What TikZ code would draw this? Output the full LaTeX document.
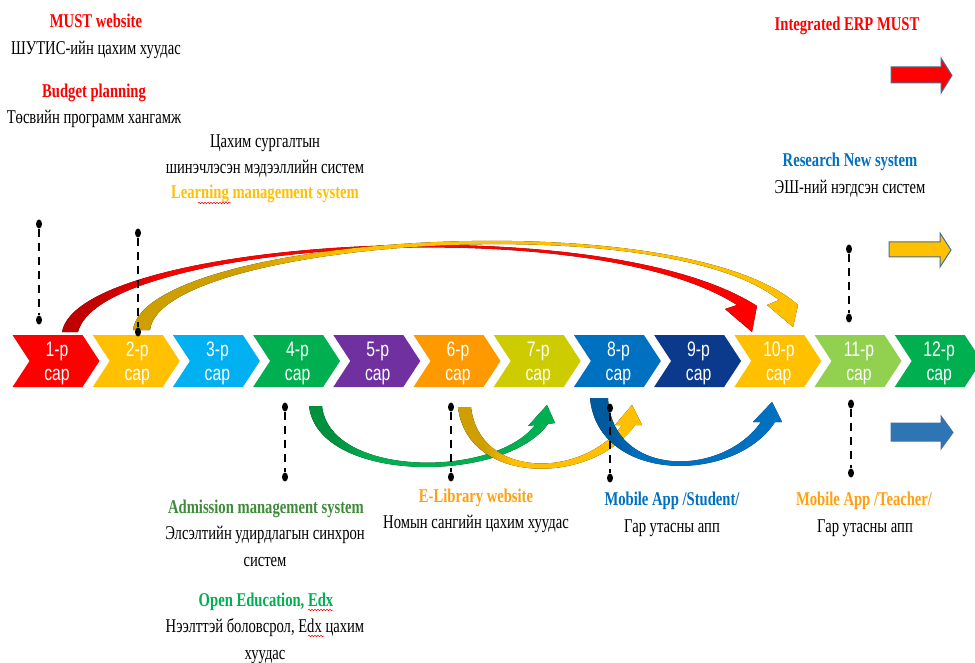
\documentclass[tikz,border=0pt]{standalone}
\usepackage{fontspec}
\setmainfont[FakeStretch=0.75]{Liberation Serif}
\newfontfamily\chevfont[FakeStretch=0.75]{Liberation Sans}
\usetikzlibrary{decorations.pathmorphing,shapes.geometric}

\definecolor{cRed}{HTML}{FF0000}
\definecolor{cRedD}{HTML}{C00000}
\definecolor{cGold}{HTML}{FFC000}
\definecolor{cGoldD}{HTML}{CF9F00}
\definecolor{cSky}{HTML}{00B0F0}
\definecolor{cGreen}{HTML}{00B050}
\definecolor{cGreenD}{HTML}{00913E}
\definecolor{cPurple}{HTML}{7030A0}
\definecolor{cOrange}{HTML}{FF9900}
\definecolor{cOlive}{HTML}{CCCC00}
\definecolor{cBlue}{HTML}{0070C0}
\definecolor{cBlueD}{HTML}{005A9E}
\definecolor{cNavy}{HTML}{0B3A8C}
\definecolor{cLime}{HTML}{92D050}
\definecolor{cOutline}{HTML}{41719C}
\definecolor{cSteel}{HTML}{2E75B6}
\definecolor{cAdm}{HTML}{3E8C3A}
\definecolor{cLib}{HTML}{FFA010}

\pgfdeclarehorizontalshading{redsh}{100bp}{color(0bp)=(cRedD); color(27bp)=(cRedD); color(33bp)=(cRed); color(100bp)=(cRed)}
\pgfdeclarehorizontalshading{goldsh}{100bp}{color(0bp)=(cGoldD); color(33bp)=(cGoldD); color(41bp)=(cGold); color(100bp)=(cGold)}
\pgfdeclarehorizontalshading{greensh}{100bp}{color(0bp)=(cGreenD); color(30bp)=(cGreenD); color(38bp)=(cGreen); color(100bp)=(cGreen)}
\pgfdeclarehorizontalshading{goldbsh}{100bp}{color(0bp)=(cGoldD); color(32bp)=(cGoldD); color(40bp)=(cGold); color(100bp)=(cGold)}
\pgfdeclarehorizontalshading{bluesh}{100bp}{color(0bp)=(cBlueD); color(31bp)=(cBlueD); color(38bp)=(cBlue); color(100bp)=(cBlue)}

\tikzset{
  lbl/.style={anchor=base, inner sep=0pt, font=\fontsize{19.5}{24}\selectfont},
  ttl/.style={anchor=base, inner sep=0pt, font=\fontsize{19.5}{24}\selectfont\bfseries},
  chevtext/.style={anchor=base, inner sep=0pt, text=white, font=\chevfont\fontsize{21}{24}\selectfont},
  pindot/.style={fill=black, ellipse, minimum width=6pt, minimum height=9pt, inner sep=0pt},
  pinline/.style={draw=black, line width=1.7pt, dash pattern=on 8pt off 6pt},
  blockarrow/.style={draw=cOutline, line width=1pt},
  squiggle/.style={draw=red, line width=0.5pt, decorate, decoration={snake, amplitude=0.8pt, segment length=3pt}}
}

\begin{document}
\begin{tikzpicture}[x=1pt, y=-1pt]
\useasboundingbox[fill=white] (0,0) rectangle (975,663);

% ---------- top curved arrows ----------
\fill[shading=redsh] (62,332) .. controls (78,240) and (600,205) .. (757,306) -- (752,332) -- (725,309) -- (737,305) .. controls (590,210) and (100,242) .. (78,332) -- cycle;
\fill[shading=goldsh] (133,330) .. controls (145,235) and (680,200) .. (798,305) -- (793,327) -- (767,305) -- (779,300) .. controls (660,205) and (160,242) .. (150,330) -- cycle;

% ---------- chevrons ----------
\foreach \i/\c in {1/cRed,2/cGold,3/cSky,4/cGreen,5/cPurple,6/cOrange,7/cOlive,8/cBlue,9/cNavy,10/cGold,11/cLime,12/cGreen}{
  \pgfmathsetmacro\L{12.5+80.2*(\i-1)}
  \fill[\c] (\L,335) -- ++(70,0) -- ++(17,26) -- ++(-17,26) -- ++(-70,0) -- ++(17,-26) -- cycle;
  \node[chevtext] (m\i) at (\L+44.5,356) {\i-р};
  \node[chevtext] (s\i) at (\L+44.5,380) {сар};
}

% ---------- bottom curved arrows ----------
\fill[shading=greensh] (309,406) .. controls (318,484) and (505,484) .. (548,424) -- (555,423) -- (547,405) -- (528,426) -- (535,425) .. controls (495,478) and (330,478) .. (322,406) -- cycle;
\fill[shading=goldbsh] (458,407) .. controls (467,486) and (592,486) .. (635,425) -- (642,425) -- (632,405) -- (615,425) -- (622,425) .. controls (582,479) and (479,479) .. (471,407) -- cycle;
\fill[shading=bluesh] (590,398) .. controls (598,484) and (735,484) .. (775,422) -- (782,422) -- (772,402) -- (753,422) -- (761,422) .. controls (722,478) and (612,478) .. (608,398) -- cycle;

% ---------- dashed pins ----------
\foreach \n/\x/\ya/\yb in {1/39/224/320, 2/138/233/332, 3/849/249/318, 4/285/407/477, 5/451/407/477, 6/610/408/478, 7/851/404/473}{
  \node[pindot] (p\n t) at (\x,\ya) {};
  \node[pindot] (p\n b) at (\x,\yb) {};
  \draw[pinline] (p\n t) -- (p\n b);
}

% ---------- block arrows ----------
\draw[blockarrow, fill=cRed] (891,67) -- (941,67) -- (941,58) -- (952,75.5) -- (941,93) -- (941,83) -- (891,83) -- cycle;
\draw[blockarrow, fill=cGold] (889,242) -- (940,242) -- (940,233) -- (951,250) -- (940,267) -- (940,257) -- (889,257) -- cycle;
\draw[blockarrow, fill=cSteel] (891,423) -- (941,423) -- (941,416) -- (953,432.5) -- (941,449) -- (941,441) -- (891,441) -- cycle;

% ---------- texts top ----------
\node[ttl, text=cRed] (t1) at (96,28) {MUST website};
\node[lbl] (t2) at (96,55) {ШУТИС-ийн цахим хуудас};
\node[ttl, text=cRed] (t3) at (94,98) {Budget planning};
\node[lbl] (t4) at (94,124) {Төсвийн программ хангамж};
\node[lbl] (t5) at (265,148) {Цахим сургалтын};
\node[lbl] (t6) at (265,174) {шинэчлэсэн мэдээллийн систем};
\node[ttl, text=cGold] (t7) at (265,199) {Learning management system};
\node[ttl, text=cRed] (t8) at (847,31) {Integrated ERP MUST};
\node[ttl, text=cBlue] (t9) at (850,167) {Research New system};
\node[lbl] (t10) at (850,194) {ЭШ-ний нэгдсэн систем};

% ---------- texts bottom ----------
\node[ttl, text=cAdm] (b1) at (266,513) {Admission management system};
\node[lbl] (b2) at (265,539) {Элсэлтийн удирдлагын синхрон};
\node[lbl] (b3) at (265,566) {систем};
\node[ttl, text=cGreen] (b4) at (266,606) {Open Education, Edx};
\node[lbl] (b5) at (265,632) {Нээлттэй боловсрол, Edx цахим};
\node[lbl] (b6) at (265,659) {хуудас};
\node[ttl, text=cLib] (b7) at (476,502) {E-Library website};
\node[lbl] (b8) at (476,528) {Номын сангийн цахим хуудас};
\node[ttl, text=cBlue] (b9) at (672,505) {Mobile App /Student/};
\node[lbl] (b10) at (672,532) {Гар утасны апп};
\node[ttl, text=cLib] (b11) at (864,505) {Mobile App /Teacher/};
\node[lbl] (b12) at (865,532) {Гар утасны апп};

% ---------- spell-check marks ----------
\draw[squiggle] (198,203) -- (231,203);
\draw[squiggle] (308,610) -- (333,610);
\draw[squiggle] (308,636) -- (324,636);
\end{tikzpicture}
\end{document}
